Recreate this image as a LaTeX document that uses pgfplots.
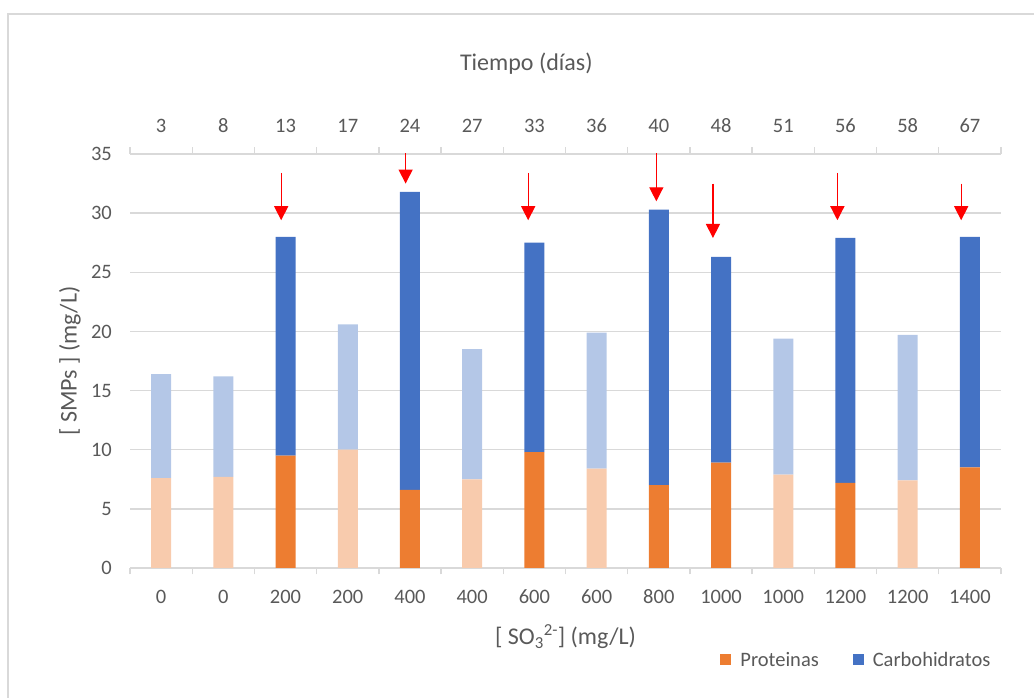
\documentclass[border=0pt]{standalone}
\usepackage{fontspec}
\setmainfont{Carlito}
\usepackage{pgfplots}
\usepackage{pgfplotstable}
\pgfplotsset{compat=1.18}
\usetikzlibrary{arrows.meta}

\definecolor{dorange}{HTML}{ED7D31}
\definecolor{lorange}{HTML}{F8CBAD}
\definecolor{dblue}{HTML}{4472C4}
\definecolor{lblue}{HTML}{B4C7E7}
\definecolor{txt}{HTML}{595959}
\definecolor{gridc}{HTML}{D9D9D9}

% x protL protD carbL carbD
\pgfplotstableread{
x  protL protD carbL carbD
0  7.6   0     8.8   0
1  7.7   0     8.5   0
2  0     9.5   0     18.5
3  10.0  0     10.6  0
4  0     6.6   0     25.2
5  7.5   0     11.0  0
6  0     9.8   0     17.7
7  8.4   0     11.5  0
8  0     7.0   0     23.3
9  0     8.9   0     17.4
10 7.9   0     11.5  0
11 0     7.2   0     20.7
12 7.4   0     12.3  0
13 0     8.5   0     19.5
}\smps

\newcommand{\tickfont}{\fontsize{20.5}{24}\selectfont}
\newcommand{\titlefont}{\fontsize{24}{28}\selectfont}

\pgfplotsset{
  base/.style={
    at={(130pt,130pt)}, anchor=south west,
    scale only axis, width=871pt, height=414pt,
    xmin=-0.5, xmax=13.5, ymin=0, ymax=35,
    axis line style={draw=none},
    tick align=outside,
    major tick length=6.5pt,
    xtick={-0.5,0.5,...,13.5},
    xticklabel=\empty,
    x tick style={draw=gridc, line width=1.3pt},
    extra x ticks={0,...,13},
    extra x tick style={major tick length=0pt},
    tick label style={font=\tickfont, text=txt},
    /pgf/number format/assume math mode=true,
  },
}

\begin{document}
\begin{tikzpicture}
\path[use as bounding box] (0,0) rectangle (1034pt,698pt);
\draw[gridc, line width=1.3pt] (8pt,-20pt) rectangle (1060pt,684pt);

\begin{axis}[base,
  ybar stacked, bar width=20pt,
  xtick pos=bottom,
  extra x tick labels={0,0,200,200,400,400,600,600,800,1000,1000,1200,1200,1400},
  extra x tick style={xticklabel style={anchor=center, yshift=-29pt}},
  ytick={0,5,...,35},
  y tick style={draw=none},
  yticklabel style={anchor=east, inner xsep=0pt, xshift=-11.5pt},
  ymajorgrids,
  grid style={gridc, line width=1.3pt},
  xlabel={[ SO\textsubscript{3}\textsuperscript{2-}] (mg/L)},
  xlabel style={at={(axis description cs:0.5,-0.166)}, anchor=center, font=\titlefont, text=txt},
  ylabel={[ SMPs ] (mg/L)},
  ylabel style={at={(axis description cs:-0.069,0.5)}, anchor=center, font=\titlefont, text=txt},
  legend style={at={(0.834,-0.222)}, anchor=center, draw=none, fill=none,
    legend columns=2, font=\tickfont, text=txt,
    /tikz/every odd column/.append style={column sep=7pt},
    /tikz/every even column/.append style={column sep=32pt}},
  legend image code/.code={\fill[#1] (0pt,-5.5pt) rectangle (11pt,5.5pt);},
]
\addplot[fill=lorange, draw=none, forget plot] table[x=x, y=protL] {\smps};
\addplot[fill=dorange, draw=none] table[x=x, y=protD] {\smps};
\addlegendentry{Proteinas}
\addplot[fill=lblue, draw=none, forget plot] table[x=x, y=carbL] {\smps};
\addplot[fill=dblue, draw=none] table[x=x, y=carbD] {\smps};
\addlegendentry{Carbohidratos}

\draw[red, line width=1.3pt, -{Triangle[width=14pt,length=14pt]}] (axis cs:1.93,33.4) -- (axis cs:1.93,29.4);
\draw[red, line width=1.3pt, -{Triangle[width=14pt,length=14pt]}] (axis cs:3.93,35.1) -- (axis cs:3.93,32.5);
\draw[red, line width=1.3pt, -{Triangle[width=14pt,length=14pt]}] (axis cs:5.90,33.4) -- (axis cs:5.90,29.4);
\draw[red, line width=1.3pt, -{Triangle[width=14pt,length=14pt]}] (axis cs:7.96,35.1) -- (axis cs:7.96,31.0);
\draw[red, line width=1.3pt, -{Triangle[width=14pt,length=14pt]}] (axis cs:8.87,32.5) -- (axis cs:8.87,27.9);
\draw[red, line width=1.3pt, -{Triangle[width=14pt,length=14pt]}] (axis cs:10.87,33.4) -- (axis cs:10.87,29.4);
\draw[red, line width=1.3pt, -{Triangle[width=14pt,length=14pt]}] (axis cs:12.86,32.5) -- (axis cs:12.86,29.4);
\end{axis}

\begin{axis}[base,
  xtick pos=top,
  extra x tick labels={3,8,13,17,24,27,33,36,40,48,51,56,58,67},
  extra x tick style={xticklabel style={anchor=center, yshift=28pt}},
  hide y axis,
  title={Tiempo (días)},
  title style={at={(axis description cs:0.455,1.203)}, anchor=center, font=\titlefont, text=txt},
]
\addplot[draw=none] coordinates {(0,0)};
\end{axis}
\end{tikzpicture}
\end{document}
